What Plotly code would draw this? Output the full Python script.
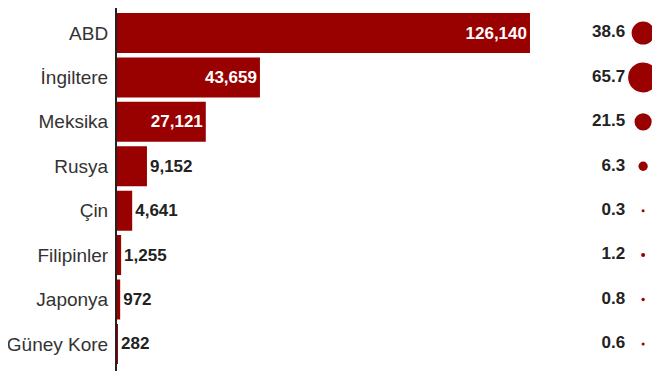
import plotly.graph_objects as go

countries = ["ABD", "İngiltere", "Meksika", "Rusya", "Çin", "Filipinler", "Japonya", "Güney Kore"]
cases = [126140, 43659, 27121, 9152, 4641, 1255, 972, 282]
rates = [38.6, 65.7, 21.5, 6.3, 0.3, 1.2, 0.8, 0.6]

RED = "#990000"
DARK = "#222222"
FONT = "Liberation Sans, Arial, Helvetica, sans-serif"

positions = ["inside"] * 3 + ["outside"] * 5

fig = go.Figure()
fig.add_trace(go.Bar(
    y=countries, x=cases, orientation="h",
    marker=dict(color=RED, line=dict(width=0)),
    width=0.9,
    texttemplate="%{x:,}",
    textposition=positions,
    insidetextanchor="end",
    constraintext="none",
    cliponaxis=False,
    insidetextfont=dict(color="white", size=17, family=FONT, weight="bold"),
    outsidetextfont=dict(color=DARK, size=17, family=FONT, weight="bold"),
    xaxis="x", yaxis="y",
    hoverinfo="skip",
))
fig.add_trace(go.Scatter(
    y=countries, x=["val"] * len(countries),
    mode="text",
    text=[f"{r:.1f}" for r in rates],
    textposition="middle left",
    textfont=dict(color=DARK, size=17, family=FONT, weight="bold"),
    cliponaxis=False,
    xaxis="x2", yaxis="y",
    hoverinfo="skip",
))
fig.add_trace(go.Scatter(
    y=countries, x=["dot"] * len(countries),
    mode="markers",
    marker=dict(color=RED, size=rates, sizemode="area", opacity=1,
                sizeref=2 * max(rates) / (30 ** 2), sizemin=1.5,
                line=dict(width=0)),
    cliponaxis=False,
    xaxis="x2", yaxis="y",
    hoverinfo="skip",
))

# page body adds an 8px offset; figure sized to fit the visible window
fig.update_layout(
    width=652, height=363,
    margin=dict(l=109, r=0, t=0, b=0, autoexpand=False),
    paper_bgcolor="white", plot_bgcolor="white",
    showlegend=False,
    font=dict(family=FONT, color="#333333"),
    xaxis=dict(domain=[0, 0.82], range=[0, 136000], visible=False, automargin=False),
    xaxis2=dict(domain=[0.82, 1], anchor="y", type="category",
                categoryorder="array", categoryarray=["val", "dot"],
                range=[-3.5, 1.94], visible=False, automargin=False),
    yaxis=dict(type="category", categoryorder="array", categoryarray=countries,
               range=[7.61, -0.563], showline=True, linecolor="#222222", linewidth=2,
               showgrid=False, zeroline=False, ticks="", ticklabelstandoff=3,
               automargin=False,
               tickfont=dict(size=19, color="#333333", family=FONT)),
)

fig.write_html("out.html")
